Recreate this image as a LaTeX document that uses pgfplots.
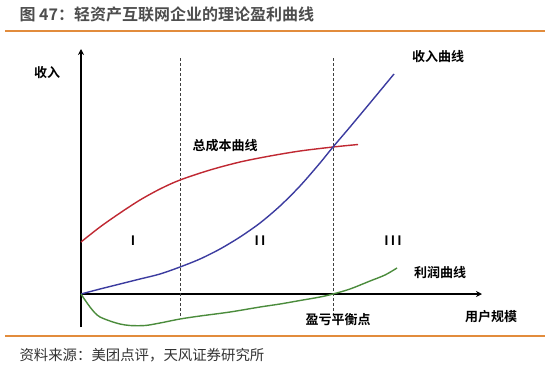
\documentclass[border=0pt]{standalone}
\usepackage{pgfplots}
\pgfplotsset{compat=1.18}
\usetikzlibrary{arrows.meta}
\usepackage{fontspec}
\setmainfont{Noto Sans CJK SC}[BoldFont={Noto Sans CJK SC Bold}]
\definecolor{cred}{RGB}{192,40,50}
\definecolor{cblue}{RGB}{60,60,160}
\definecolor{cgreen}{RGB}{75,140,60}
\definecolor{corange}{RGB}{226,140,60}
\definecolor{ctitle}{RGB}{77,77,77}
\definecolor{cfoot}{RGB}{51,51,51}
\begin{document}
\begin{tikzpicture}
\begin{axis}[
  scale only axis, width=550bp, height=366bp,
  hide axis, clip=false,
  xmin=0, xmax=550, ymin=0, ymax=366, y dir=reverse,
]
% background
\addplot[fill=white, draw=none] coordinates {(0,0) (550,0) (550,366) (0,366)} -- cycle;
% header / footer rules
\addplot[corange, line width=2bp] coordinates {(5,31) (545,31)};
\addplot[corange, line width=1.5bp] coordinates {(5,336) (545,336)};
% axes
\addplot[black, line width=1.6bp, -{Stealth[length=6bp,width=6bp]}] coordinates {(81,327) (81,49)};
\addplot[black, line width=1.6bp, -{Stealth[length=6bp,width=6bp]}] coordinates {(80,294) (482,294)};
% dashed separators
\addplot[black!75, line width=1bp, dash pattern=on 3bp off 2bp] coordinates {(180,58) (180,318)};
\addplot[black!75, line width=1bp, dash pattern=on 3bp off 2bp] coordinates {(333,58) (333,318)};
% total cost curve
\addplot[cred, line width=1.4bp, smooth] coordinates {
(81,242) (100,227) (120,213) (140,200) (160,189) (180,180) (210,170) (240,162)
(270,156) (300,151) (333,147) (358,144.5)};
% revenue curve
\addplot[cblue, line width=1.4bp, smooth] coordinates {
(81,294) (100,289) (120,284) (140,279) (160,274) (180,267) (200,259) (220,249)
(240,237) (260,223) (280,206) (300,186) (320,163) (333,147) (350,127) (370,103) (394,74)};
% profit curve
\addplot[cgreen, line width=1.4bp, smooth] coordinates {
(81,294) (85,300) (90,307) (95,313) (100,317) (110,321) (120,324) (130,325.5)
(145,325.5) (160,323) (180,319) (200,316) (230,312) (260,307) (280,304) (300,300.5)
(320,297) (333,294) (350,289) (370,281) (385,275) (397,268)};
% texts
\node[anchor=west, text=ctitle, font=\fontsize{16bp}{18bp}\selectfont\bfseries] at (axis cs:16,14) {图 47：轻资产互联网企业的理论盈利曲线};
\node[anchor=west, text=cfoot, font=\fontsize{14.4bp}{16bp}\selectfont] at (axis cs:16,355) {资料来源：美团点评，天风证券研究所};
\begin{scope}[every node/.style={font=\fontsize{13bp}{15bp}\selectfont\bfseries, text=black, inner sep=0pt}]
\node at (axis cs:47,73) {收入};
\node at (axis cs:225,146) {总成本曲线};
\node at (axis cs:438,57) {收入曲线};
\node at (axis cs:440,272) {利润曲线};
\node at (axis cs:338,320) {盈亏平衡点};
\node at (axis cs:491,317) {用户规模};
\node at (axis cs:133,241) {I};
\node at (axis cs:260,241) {I\,I};
\node at (axis cs:393,241) {I\,I\,I};
\end{scope}
\end{axis}
\end{tikzpicture}
\end{document}
